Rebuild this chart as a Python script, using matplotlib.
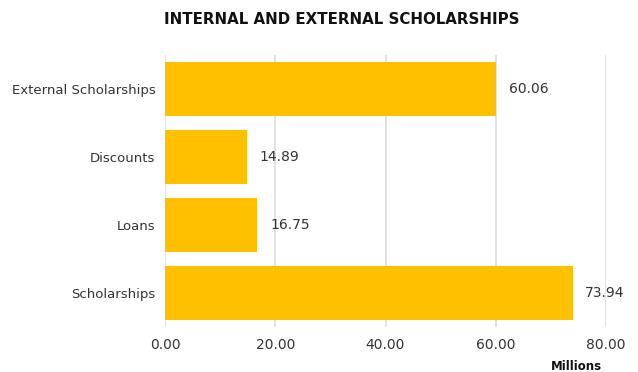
import matplotlib.pyplot as plt

categories = ['Scholarships', 'Loans', 'Discounts', 'External Scholarships']
values = [73.94, 16.75, 14.89, 60.06]
x_ticks = [0, 20, 40, 60, 80]

BAR_COLOR = '#ffc000'
TEXT_COLOR = '#333333'

plt.rcParams['font.family'] = ['DejaVu Sans']

fig = plt.figure(figsize=(6.38, 3.72), dpi=100)
ax = fig.add_axes([165 / 638, 1 - 327 / 372, 441 / 638, 272 / 372])

y = list(range(len(categories)))
ax.barh(y, values, height=0.8, color=BAR_COLOR, zorder=3)

for yi, v in zip(y, values):
    ax.text(v + 2.3, yi, f'{v:.2f}', va='center', ha='left',
            fontsize=10, color=TEXT_COLOR)

ax.set_xlim(0, 80)
ax.set_ylim(-0.5, 3.5)
ax.set_xticks(x_ticks)
ax.set_xticklabels([f'{t:.2f}' for t in x_ticks])
ax.set_yticks(y)
ax.set_yticklabels(categories)
ax.tick_params(axis='both', length=0, labelsize=10, colors=TEXT_COLOR)
ax.tick_params(axis='y', labelsize=9.5, pad=7)
ax.tick_params(axis='x', pad=8)

ax.grid(axis='x', color='#dddddd', linewidth=1.2, zorder=0)
for s in ax.spines.values():
    s.set_visible(False)

fig.text(342 / 638, 1 - 19 / 372, 'INTERNAL AND EXTERNAL SCHOLARSHIPS', ha='center', va='center',
         fontsize=10.8, fontweight='bold', color='#111111')
fig.text(602 / 638, 1 - 366 / 372, 'Millions', ha='right', va='center',
         fontsize=8.5, fontweight='bold', color='#111111')

fig.savefig('out.png', dpi=100)
